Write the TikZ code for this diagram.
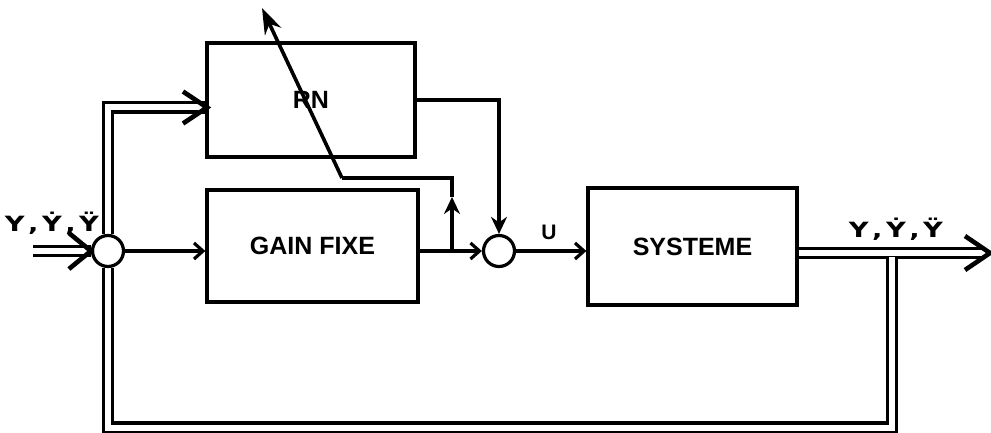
\documentclass[tikz,border=0pt]{standalone}
\usepackage{fontspec}
\setmainfont{Liberation Sans}
\newfontfamily\lblfont[FakeStretch=1.3]{DejaVu Sans}
\usetikzlibrary{arrows.meta,backgrounds}
\begin{document}
\begin{tikzpicture}[x=1pt,y=-1pt,
  blk/.style={draw, line width=3.2pt, inner sep=0pt, font=\fontsize{25}{30}\selectfont\bfseries},
  sig/.style={line width=3.2pt},
  sarr/.style={sig,-{Straight Barb[length=9pt,width=16pt]}},
  farr/.style={sig,-{Stealth[length=17pt,width=16pt]}},
  dbl/.style={double, double distance=6pt, line width=3.2pt, line join=miter},
  dhead/.style={line width=4.6pt, line join=miter},
  sumj/.style={circle, draw, line width=3.2pt, fill=white, minimum size=31pt, inner sep=0pt},
  lbl/.style={font=\lblfont\bfseries\fontsize{21}{24}\selectfont, inner sep=0pt, anchor=base}
]
\useasboundingbox (0,0) rectangle (991,433);

% blocks
\node[blk, minimum width=208pt, minimum height=114pt] (rn) at (311,100) {RN};
\node[blk, minimum width=211pt, minimum height=112pt] (gain) at (312.5,246) {GAIN FIXE};
\node[blk, minimum width=209pt, minimum height=117pt] (sys) at (692.5,246.5) {SYSTEME};

% summing junctions
\node[sumj] (sumL) at (108,251) {};
\node[sumj] (sumR) at (499,251) {};

% coordinates
\coordinate (inL) at (33,251);
\coordinate (rnin) at (207,107.5);
\coordinate (outR) at (990,253);
\coordinate (outEnd) at (982,253);
\coordinate (tap) at (892,257.2);
\coordinate (fbR) at (892,427.5);
\coordinate (fbL) at (108,427.5);
\coordinate (br) at (452,251);
\coordinate (brmid) at (452,197);
\coordinate (brtop) at (452,178);
\coordinate (dstart) at (342,178);
\coordinate (dtip) at (262,8);

% labels
\node[lbl] (yin) at (52,231) {Y\,,\,Ẏ\,,\,Ÿ};
\node[lbl] (yout) at (896,237) {Y\,,\,Ẏ\,,\,Ÿ};
\node[font=\fontsize{21}{24}\selectfont\bfseries, inner sep=0pt] (u) at (549,232.5) {U};

\begin{scope}[on background layer]
  % double lines
  \draw[dbl] (inL) -- (sumL.west);
  \draw[dbl] (sumL.north) -- (sumL.north |- rnin) -- (rnin);
  \draw[dbl] (sys.east |- outR) -- (outEnd);
  \draw[dbl] (tap) -- (fbR) -- (fbL) -- (sumL.south);
  % single lines
  \draw[sarr] (sumL.east) -- (sumL -| gain.west);
  \draw[sarr] (gain.east |- sumR) -- (sumR.west);
  \draw[sarr] (sumR.east) -- (sumR -| sys.west);
  \draw[farr] (rn.east) -| (sumR.north);
  \draw[farr] (br) -- (brmid);
  \draw[sig] (brmid) -- (brtop) -- (dstart);
  \draw[line width=3.6pt, -{Stealth[length=26pt,width=18pt]}] (dstart) -- (dtip);
\end{scope}

% heads of the double arrows
\draw[dhead] (sumL.west) ++(-22,-18) -- (sumL.west) -- ++(-22,18);
\draw[dhead] (rnin) ++(-24,-16) -- (rnin) -- ++(-24,16);
\draw[dhead] (outR) ++(-25,-17) -- (outR) -- ++(-25,17);
\end{tikzpicture}
\end{document}
